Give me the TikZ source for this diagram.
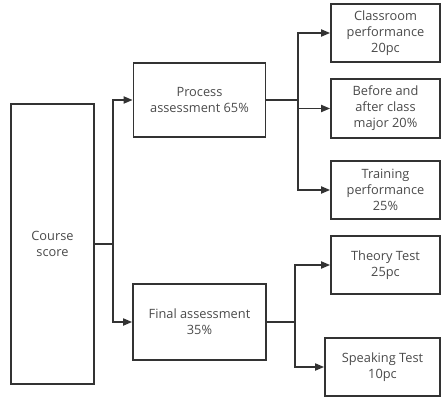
\documentclass[tikz,border=0pt]{standalone}
\usepackage{fontspec}
\setmainfont{Open Sans}
\usepackage{xcolor}
\usetikzlibrary{arrows.meta}
\definecolor{linegray}{HTML}{333333}
\definecolor{textgray}{HTML}{4A4A4A}
\tikzset{
  box/.style={draw=linegray, line width=1.7pt, rectangle, align=center, inner sep=2pt,
    text=textgray, font=\fontsize{12.8}{16}\selectfont},
  link/.style={draw=linegray, line width=1.7pt},
  arr/.style={link, -{Triangle[length=9pt,width=7pt]}}}

\begin{document}
\begin{tikzpicture}[x=1pt,y=-1pt]
\useasboundingbox (0,0) rectangle (441,399);

%left column
\node[box, minimum width=83pt, minimum height=280pt] (course) at (52.5,244) {Course\\score};
\coordinate (trunk) at (113,244);

%middle column
\node[box, minimum width=132pt, minimum height=74pt] (process) at (199.5,100) {Process\\assessment 65\%};
\node[box, minimum width=133pt, minimum height=76pt] (final) at (199.5,322) {Final assessment\\35\%};

%right column
\node[box, minimum width=109pt, minimum height=58pt] (classroom) at (385.5,33) {Classroom\\performance\\20pc};
\node[box, minimum width=109pt, minimum height=59pt] (before) at (385.5,108.5) {Before and\\after class\\major 20\%};
\node[box, minimum width=109pt, minimum height=58pt] (training) at (385.5,190) {Training\\performance\\25\%};
\node[box, minimum width=109pt, minimum height=58pt] (theory) at (385.5,265) {Theory Test\\25pc};
\node[box, minimum width=115pt, minimum height=58pt] (speaking) at (382.5,367) {Speaking Test\\10pc};

\coordinate (pbranch) at (298,100);
\coordinate (fbranch) at (295,322);

%connectors
\draw[link] (course.east) -- (trunk);
\draw[arr] (trunk) |- (process.west);
\draw[arr] (trunk) |- (final.west);

\draw[link] (process.east) -- (pbranch);
\draw[arr] (pbranch) |- (classroom.west);
\draw[arr] (pbranch) |- (before.west);
\draw[arr] (pbranch) |- (training.west);

\draw[link] (final.east) -- (fbranch);
\draw[arr] (fbranch) |- (theory.west);
\draw[arr] (fbranch) |- (speaking.west);
\end{tikzpicture}
\end{document}
